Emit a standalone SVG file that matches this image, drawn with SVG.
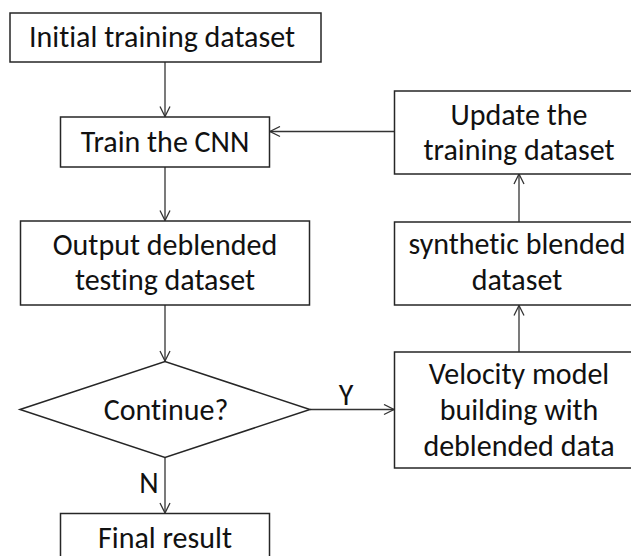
<svg xmlns="http://www.w3.org/2000/svg" width="631" height="556" viewBox="0 0 631 556">
  <style>
    .box { fill: #ffffff; stroke: #262626; stroke-width: 1.5; }
    .lbl { font-family: Carlito, Lato, "Open Sans", sans-serif; font-size: 30px; fill: #111111; text-anchor: middle; font-variant-ligatures: none; }
    .edge { fill: none; stroke: #333333; stroke-width: 1.3; }
  </style>
  <defs>
    <marker id="arrow" viewBox="0 0 12 12" refX="11" refY="6" markerWidth="12" markerHeight="12" markerUnits="userSpaceOnUse" orient="auto">
      <path d="M1,1 L11,6 L1,11" fill="none" stroke="#333333" stroke-width="1.3"/>
    </marker>
  </defs>
  <rect width="631" height="556" fill="#ffffff"/>

  <g id="connectors">
    <line class="edge" x1="165" y1="62" x2="165" y2="116.5" marker-end="url(#arrow)"/>
    <line class="edge" x1="165" y1="167" x2="165" y2="220.5" marker-end="url(#arrow)"/>
    <line class="edge" x1="165" y1="305" x2="165" y2="361" marker-end="url(#arrow)"/>
    <line class="edge" x1="165" y1="458" x2="165" y2="513" marker-end="url(#arrow)"/>
    <line class="edge" x1="310" y1="409.5" x2="394" y2="409.5" marker-end="url(#arrow)"/>
    <line class="edge" x1="519" y1="352" x2="519" y2="305.5" marker-end="url(#arrow)"/>
    <line class="edge" x1="519" y1="222" x2="519" y2="174" marker-end="url(#arrow)"/>
    <line class="edge" x1="394" y1="131.5" x2="270" y2="131.5" marker-end="url(#arrow)"/>
    <text class="lbl" x="346" y="405">Y</text>
    <text class="lbl" x="149" y="493">N</text>
  </g>

  <g id="initial">
    <rect class="box" x="10" y="13" width="311" height="49"/>
    <text class="lbl" x="162" y="47">Initial training dataset</text>
  </g>
  <g id="train">
    <rect class="box" x="60.5" y="117" width="209" height="50"/>
    <text class="lbl" x="165" y="152">Train the CNN</text>
  </g>
  <g id="output">
    <rect class="box" x="20.5" y="221" width="289" height="84"/>
    <text class="lbl" x="165" y="255">Output deblended</text>
    <text class="lbl" x="165" y="290">testing dataset</text>
  </g>
  <g id="decision">
    <polygon class="box" points="20,409.5 165,361.5 310,409.5 165,457.5"/>
    <text class="lbl" x="166" y="420">Continue?</text>
  </g>
  <g id="final">
    <rect class="box" x="60.5" y="513.5" width="209" height="60"/>
    <text class="lbl" x="165" y="548">Final result</text>
  </g>
  <g id="velocity">
    <rect class="box" x="394.5" y="352" width="250" height="116"/>
    <text class="lbl" x="519" y="384">Velocity model</text>
    <text class="lbl" x="519" y="420">building with</text>
    <text class="lbl" x="519" y="456">deblended data</text>
  </g>
  <g id="synthetic">
    <rect class="box" x="394.5" y="222" width="250" height="83"/>
    <text class="lbl" x="517" y="254">synthetic blended</text>
    <text class="lbl" x="517" y="290">dataset</text>
  </g>
  <g id="update">
    <rect class="box" x="394.5" y="91" width="250" height="83"/>
    <text class="lbl" x="519" y="125">Update the</text>
    <text class="lbl" x="519" y="160">training dataset</text>
  </g>
</svg>
